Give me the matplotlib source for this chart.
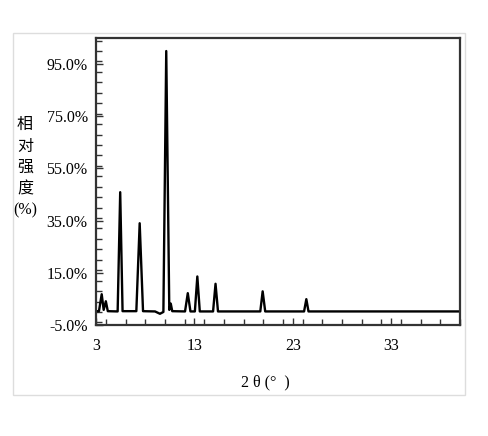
import matplotlib.pyplot as plt
from matplotlib.patches import Rectangle
from matplotlib.ticker import MultipleLocator, FixedLocator

# 2theta / relative intensity (%)
two_theta = [3.0, 3.3, 3.58, 3.78, 4.0, 4.2, 5.2, 5.46, 5.7, 7.1, 7.44, 7.78,
             9.0, 9.5, 9.85, 10.14, 10.45, 10.6, 10.75, 12.05, 12.33, 12.6,
             13.05, 13.3, 13.55, 14.9, 15.15, 15.4, 19.7, 19.94, 20.2,
             24.15, 24.38, 24.6, 40.0]
intensity = [0.3, 0.3, 6.8, 0.8, 4.1, 0.3, 0.2, 45.9, 0.3, 0.3, 34.0, 0.3,
             0.2, -0.7, 0.0, 100.0, 0.8, 3.2, 0.3, 0.2, 7.2, 0.2,
             0.2, 13.6, 0.2, 0.2, 10.8, 0.2, 0.2, 7.9, 0.2,
             0.2, 4.9, 0.2, 0.2]

x_ticks = [3, 13, 23, 33]
y_ticks = [-5, 15, 35, 55, 75, 95]

plt.rcParams['font.family'] = ['Liberation Serif', 'Noto Sans CJK SC']

fig = plt.figure(figsize=(4.89, 4.36), dpi=100)
fig.patches.append(Rectangle((13.5 / 489, 1 - 395 / 436), (465 - 13.5) / 489, (395 - 33.5) / 436,
                             transform=fig.transFigure, fill=False, edgecolor='#dddddd', lw=1))
ax = fig.add_axes([96 / 489, 1 - 325 / 436, (460 - 96) / 489, (325 - 38) / 436])

ax.plot(two_theta, intensity, color='black', lw=1.7, solid_joinstyle='round')
ax.set_xlim(3, 40)
ax.set_ylim(-5, 105)

ax.xaxis.set_major_locator(FixedLocator(x_ticks))
ax.xaxis.set_minor_locator(MultipleLocator(2))
ax.yaxis.set_major_locator(FixedLocator(y_ticks))
ax.yaxis.set_minor_locator(MultipleLocator(4))
ax.set_yticklabels([f"{v:.1f}%" for v in y_ticks])
ax.tick_params(which='both', direction='in', top=False, right=False, labelsize=11.5, color='#333333')
ax.tick_params(which='major', length=5, width=1)
ax.tick_params(which='minor', length=4, width=1)
ax.tick_params(axis='x', pad=9)
ax.tick_params(axis='y', pad=6)
for s in ax.spines.values():
    s.set_linewidth(1.6)
    s.set_color('#333333')

fig.text(25 / 489, 1 - 168 / 436, "相\n对\n强\n度\n(%)", ha='center', va='center',
         fontsize=11.5, linespacing=1.45)
fig.text(265 / 489, 1 - 382 / 436, "2 θ (°  )", ha='center', va='center', fontsize=11.5)

fig.savefig("out.png", dpi=100)
